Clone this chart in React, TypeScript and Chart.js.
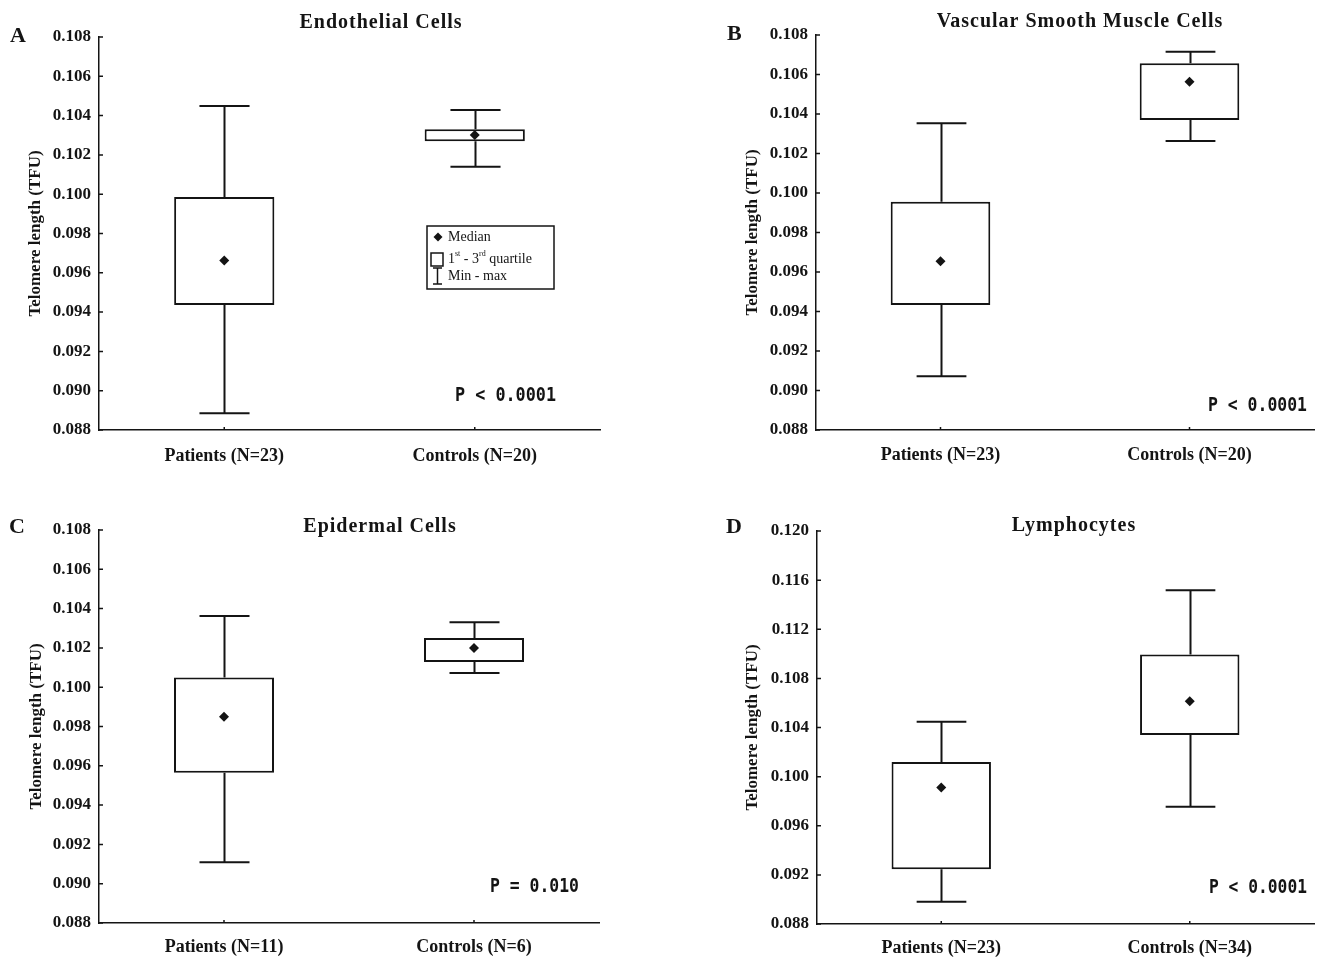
import React, { useEffect, useRef } from 'react';
import { Chart, registerables } from 'chart.js';

Chart.register(...registerables);

// ---------------- data ----------------
const categoriesA = ['Patients (N=23)', 'Controls (N=20)'];
const minA = [0.08885, 0.1014];
const q1A = [0.09436, 0.10269];
const medianA = [0.09662, 0.10301];
const q3A = [0.09986, 0.1033];
const maxA = [0.10449, 0.10429];

const categoriesB = ['Patients (N=23)', 'Controls (N=20)'];
const minB = [0.09072, 0.10263];
const q1B = [0.09433, 0.10369];
const medianB = [0.09655, 0.10563];
const q3B = [0.09956, 0.10657];
const maxB = [0.10353, 0.10715];

const categoriesC = ['Patients (N=11)', 'Controls (N=6)'];
const minC = [0.09109, 0.10072];
const q1C = [0.09564, 0.10128];
const medianC = [0.0985, 0.10199];
const q3C = [0.1005, 0.1025];
const maxC = [0.10362, 0.10331];

const categoriesD = ['Patients (N=23)', 'Controls (N=34)'];
const minD = [0.08981, 0.09754];
const q1D = [0.09245, 0.10338];
const medianD = [0.09912, 0.10614];
const q3D = [0.1012, 0.10994];
const maxD = [0.10446, 0.11517];

const yRangeABC = [0.088, 0.108, 0.002];
const yRangeD = [0.088, 0.12, 0.004];

const titles = ['Endothelial Cells', 'Vascular Smooth Muscle Cells', 'Epidermal Cells', 'Lymphocytes'];
const letters = ['A', 'B', 'C', 'D'];
const pValues = ['P < 0.0001', 'P < 0.0001', 'P = 0.010', 'P < 0.0001'];
const yAxisTitle = 'Telomere length (TFU)';

// ---------------- styling / layout ----------------
const SERIF = '"Liberation Serif", "Times New Roman", serif';
const MONO = '"DejaVu Sans Mono", "Liberation Mono", monospace';
const INK = '#141414';

type Panel = {
  categories: string[];
  min: number[];
  q1: number[];
  median: number[];
  q3: number[];
  max: number[];
  range: number[];
  letter: string;
  title: string;
  pText: string;
  box: { left: number; top: number; width: number; height: number };
  padding: { left: number; top: number; right: number; bottom: number };
  yWidth: number;
  xHeight: number;
  xPad: number;
  letterPos: [number, number];
  titlePos: [number, number];
  pPos: [number, number, number];
  legend: boolean;
};

const panels: Panel[] = [
  {
    categories: categoriesA, min: minA, q1: q1A, median: medianA, q3: q3A, max: maxA,
    range: yRangeABC, letter: letters[0], title: titles[0], pText: pValues[0],
    box: { left: 0, top: 0, width: 660, height: 480 },
    padding: { left: 20, top: 37, right: 60, bottom: 10 },
    yWidth: 79, xHeight: 40, xPad: 16,
    letterPos: [10, 42], titlePos: [381, 28], pPos: [455, 395, 101], legend: true,
  },
  {
    categories: categoriesB, min: minB, q1: q1B, median: medianB, q3: q3B, max: maxB,
    range: yRangeABC, letter: letters[1], title: titles[1], pText: pValues[1],
    box: { left: 660, top: 0, width: 659, height: 480 },
    padding: { left: 77, top: 35, right: 2, bottom: 10 },
    yWidth: 79, xHeight: 40, xPad: 15,
    letterPos: [67, 40], titlePos: [420, 27], pPos: [548, 405, 99], legend: false,
  },
  {
    categories: categoriesC, min: minC, q1: q1C, median: medianC, q3: q3C, max: maxC,
    range: yRangeABC, letter: letters[2], title: titles[2], pText: pValues[2],
    box: { left: 0, top: 490, width: 660, height: 469 },
    padding: { left: 21, top: 40, right: 61, bottom: 0 },
    yWidth: 78, xHeight: 36, xPad: 14,
    letterPos: [9, 43], titlePos: [380, 42], pPos: [490, 396, 89], legend: false,
  },
  {
    categories: categoriesD, min: minD, q1: q1D, median: medianD, q3: q3D, max: maxD,
    range: yRangeD, letter: letters[3], title: titles[3], pText: pValues[3],
    box: { left: 660, top: 490, width: 659, height: 469 },
    padding: { left: 77, top: 41, right: 2, bottom: 0 },
    yWidth: 80, xHeight: 35, xPad: 14,
    letterPos: [66, 43], titlePos: [414, 41], pPos: [549, 396.5, 98], legend: false,
  },
];

function drawLegend(ctx: CanvasRenderingContext2D) {
  ctx.save();
  ctx.strokeStyle = INK;
  ctx.fillStyle = INK;
  ctx.lineWidth = 1.5;
  ctx.strokeRect(427, 226, 127, 63);
  // diamond
  ctx.beginPath();
  ctx.moveTo(438, 232.5);
  ctx.lineTo(442.5, 237);
  ctx.lineTo(438, 241.5);
  ctx.lineTo(433.5, 237);
  ctx.closePath();
  ctx.fill();
  ctx.font = `14px ${SERIF}`;
  ctx.textBaseline = 'middle';
  ctx.textAlign = 'left';
  ctx.fillText('Median', 448, 237);
  // square
  ctx.lineWidth = 1.5;
  ctx.strokeRect(431, 253, 12, 13);
  // quartile text with superscripts
  let x = 448;
  const yq = 259;
  const part = (t: string, sup: boolean) => {
    ctx.font = sup ? `8px ${SERIF}` : `14px ${SERIF}`;
    ctx.fillText(t, x, sup ? yq - 5 : yq);
    x += ctx.measureText(t).width;
  };
  part('1', false);
  part('st', true);
  part(' - 3', false);
  part('rd', true);
  part(' quartile', false);
  // I-beam
  ctx.beginPath();
  ctx.moveTo(437.5, 268);
  ctx.lineTo(437.5, 284);
  ctx.moveTo(433, 268);
  ctx.lineTo(442, 268);
  ctx.moveTo(433, 284);
  ctx.lineTo(442, 284);
  ctx.stroke();
  ctx.font = `14px ${SERIF}`;
  ctx.fillText('Min - max', 448, 276);
  ctx.restore();
}

function BoxPanel({ panel }: { panel: Panel }) {
  const ref = useRef<HTMLCanvasElement | null>(null);

  useEffect(() => {
    if (!ref.current) return;

    const whiskers = {
      id: 'whiskers',
      beforeDatasetsDraw(chart: any) {
        const { ctx } = chart;
        const meta = chart.getDatasetMeta(0);
        const y = chart.scales.y;
        ctx.save();
        ctx.strokeStyle = INK;
        ctx.lineWidth = 2;
        meta.data.forEach((bar: any, i: number) => {
          const { x, width } = bar.getProps(['x', 'width'], true);
          const half = width / 4;
          const yMax = y.getPixelForValue(panel.max[i]);
          const yQ3 = y.getPixelForValue(panel.q3[i]);
          const yQ1 = y.getPixelForValue(panel.q1[i]);
          const yMin = y.getPixelForValue(panel.min[i]);
          const cx = Math.round(x) + 0.5;
          ctx.beginPath();
          ctx.moveTo(cx, yMax);
          ctx.lineTo(cx, yQ3);
          ctx.moveTo(cx, yQ1);
          ctx.lineTo(cx, yMin);
          ctx.moveTo(cx - half, yMax);
          ctx.lineTo(cx + half, yMax);
          ctx.moveTo(cx - half, yMin);
          ctx.lineTo(cx + half, yMin);
          ctx.stroke();
        });
        ctx.restore();
      },
      afterDraw(chart: any) {
        const { ctx, chartArea } = chart;
        const y = chart.scales.y;
        const xs = chart.scales.x;
        ctx.save();
        ctx.strokeStyle = INK;
        ctx.lineWidth = 1.5;
        // inward tick marks
        ctx.beginPath();
        y.ticks.forEach((_t: any, i: number) => {
          const py = y.getPixelForTick(i);
          ctx.moveTo(chartArea.left, py);
          ctx.lineTo(chartArea.left + 4, py);
        });
        xs.ticks.forEach((_t: any, i: number) => {
          const px = xs.getPixelForTick(i);
          ctx.moveTo(px, chartArea.bottom);
          ctx.lineTo(px, chartArea.bottom - 3);
        });
        ctx.stroke();

        ctx.fillStyle = INK;
        ctx.textAlign = 'left';
        ctx.textBaseline = 'alphabetic';
        // panel letter
        ctx.font = `bold 22px ${SERIF}`;
        ctx.fillText(panel.letter, panel.letterPos[0], panel.letterPos[1]);
        // title
        ctx.font = `bold 20px ${SERIF}`;
        (ctx as any).letterSpacing = '1px';
        ctx.textAlign = 'center';
        ctx.fillText(panel.title, panel.titlePos[0], panel.titlePos[1]);
        (ctx as any).letterSpacing = '0px';
        // p-value
        ctx.textAlign = 'left';
        ctx.textBaseline = 'middle';
        ctx.font = `bold 20px ${MONO}`;
        ctx.fillText(panel.pText, panel.pPos[0], panel.pPos[1] + 1, panel.pPos[2]);
        ctx.restore();
        if (panel.legend) drawLegend(ctx);
      },
    };

    const chart = new Chart(ref.current, {
      type: 'bar',
      data: {
        labels: panel.categories,
        datasets: [
          {
            type: 'bar',
            label: '1st - 3rd quartile',
            data: panel.q1.map((v, i) => [v, panel.q3[i]]) as any,
            backgroundColor: '#ffffff',
            borderColor: INK,
            borderWidth: 2,
            borderSkipped: false,
            barPercentage: 0.4,
            categoryPercentage: 1,
            order: 2,
          },
          {
            type: 'line',
            label: 'Median',
            data: panel.median,
            showLine: false,
            pointStyle: 'rectRot',
            pointRadius: 5,
            pointBackgroundColor: INK,
            pointBorderColor: INK,
            pointBorderWidth: 0,
            order: 1,
          } as any,
        ],
      },
      options: {
        responsive: false,
        animation: false,
        events: [],
        layout: { padding: panel.padding },
        plugins: {
          legend: { display: false },
          tooltip: { enabled: false },
          title: { display: false },
        },
        scales: {
          x: {
            offset: true,
            grid: { display: false, drawTicks: false },
            border: { display: true, color: INK, width: 1.5 },
            ticks: {
              color: INK,
              padding: panel.xPad,
              font: { family: SERIF, size: 18, weight: 'bold' },
              maxRotation: 0,
            },
            afterFit: (s: any) => {
              s.height = panel.xHeight;
            },
          },
          y: {
            min: panel.range[0],
            max: panel.range[1],
            grid: { display: false, drawTicks: false },
            border: { display: true, color: INK, width: 1.5 },
            ticks: {
              stepSize: panel.range[2],
              color: INK,
              padding: 8,
              font: { family: SERIF, size: 17, weight: 'bold' },
              callback: (v: any) => Number(v).toFixed(3),
            },
            title: {
              display: true,
              text: yAxisTitle,
              color: INK,
              font: { family: SERIF, size: 17, weight: 'bold' },
              padding: { top: 5, bottom: 0 },
            },
            afterFit: (s: any) => {
              s.width = panel.yWidth;
            },
          },
        },
      } as any,
      plugins: [whiskers],
    });

    return () => chart.destroy();
  }, [panel]);

  const { left, top, width, height } = panel.box;
  return (
    <canvas
      ref={ref}
      width={width}
      height={height}
      style={{ position: 'absolute', left, top, width, height }}
    />
  );
}

export default function App() {
  return (
    <div
      style={{
        position: 'absolute',
        left: 0,
        top: 0,
        width: 1319,
        height: 959,
        background: '#ffffff',
        overflow: 'hidden',
      }}
    >
      {panels.map((p) => (
        <BoxPanel key={p.letter} panel={p} />
      ))}
    </div>
  );
}
